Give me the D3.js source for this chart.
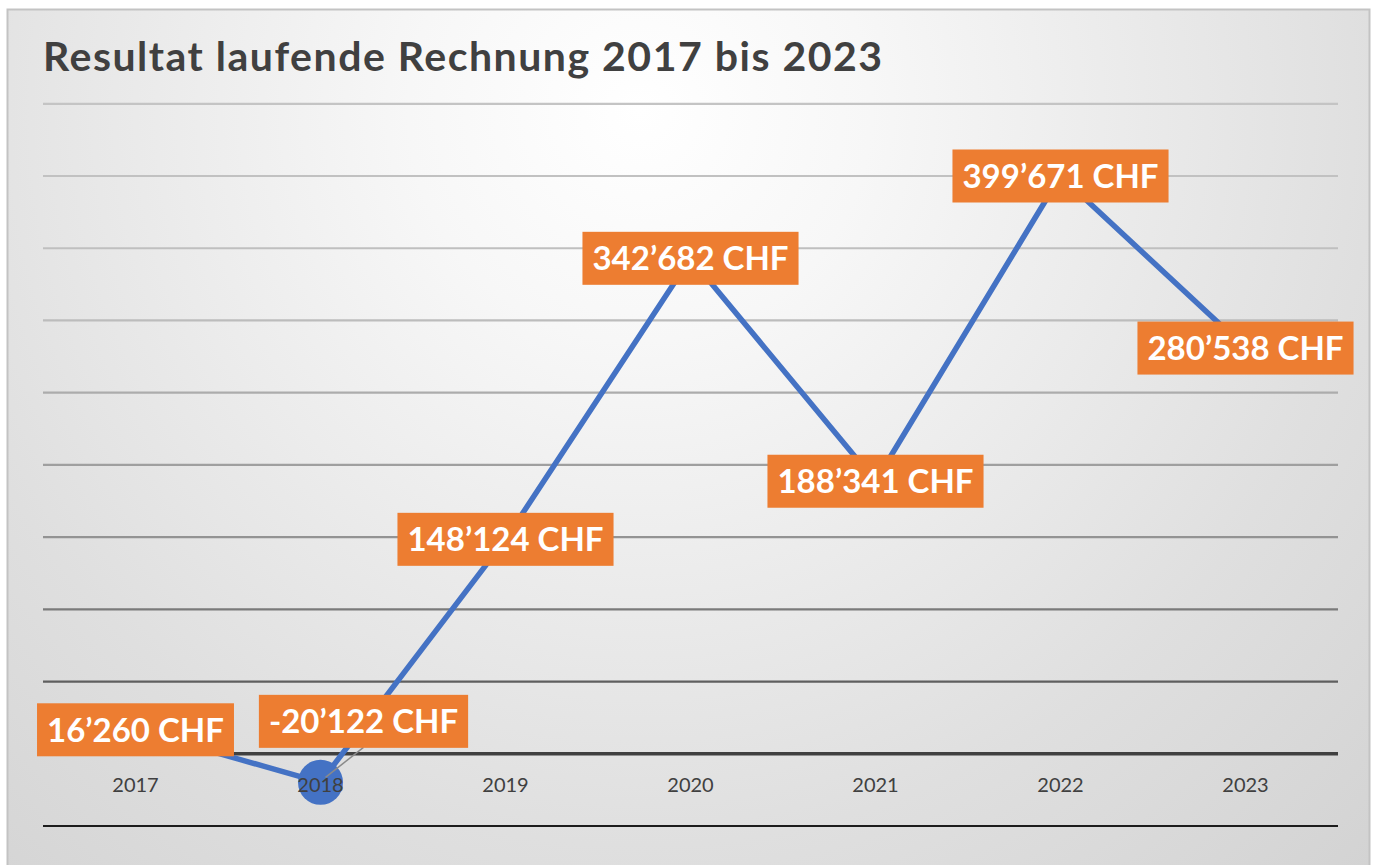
<!DOCTYPE html>
<html>
<head>
<meta charset="utf-8">
<script src="https://cdn.jsdelivr.net/npm/d3@7"></script>
<style>
  html, body { margin: 0; padding: 0; background: #ffffff; }
  svg { display: block; }
</style>
</head>
<body>
<svg id="chart" width="1373" height="865"></svg>
<script>
// ---- data ----
const years = ["2017", "2018", "2019", "2020", "2021", "2022", "2023"];
const results = [16260, -20122, 148124, 342682, 188341, 399671, 280538];
const yTicks = [-50000, 0, 50000, 100000, 150000, 200000, 250000, 300000, 350000, 400000, 450000];
const title = "Resultat laufende Rechnung 2017 bis 2023";
const currency = "CHF";

// ---- layout ----
const W = 1373, H = 865;
const plot = { left: 43, right: 1338, top: 103.3, bottom: 825.5 };
const svg = d3.select("#chart");
const defs = svg.append("defs");

const bg = defs.append("radialGradient").attr("id", "bg")
  .attr("gradientUnits", "userSpaceOnUse")
  .attr("cx", 640).attr("cy", 110).attr("r", 1050);
bg.append("stop").attr("offset", "0").attr("stop-color", "#ffffff");
bg.append("stop").attr("offset", "0.22").attr("stop-color", "#f7f7f7");
bg.append("stop").attr("offset", "0.7").attr("stop-color", "#dfdfdf");
bg.append("stop").attr("offset", "1").attr("stop-color", "#d3d3d3");

// background + border
svg.append("rect").attr("x", 7.5).attr("y", 9.5).attr("width", 1362).attr("height", 860)
  .attr("fill", "url(#bg)").attr("stroke", "#c3c3c3").attr("stroke-width", 2);

// ---- scales ----
const x = d3.scaleBand().domain(years).range([plot.left, plot.right]).padding(0);
const cx = d => x(d) + x.bandwidth() / 2;
const y = d3.scaleLinear().domain([d3.min(yTicks), d3.max(yTicks)]).range([plot.bottom, plot.top]);

// gridline shade darkens toward the bottom
const gridShade = d3.scaleLinear()
  .domain([100, 330, 400, 540, 610, 685])
  .range(["#c4c4c4", "#bcbcbc", "#aaaaaa", "#929292", "#7a7a7a", "#5e5e5e"])
  .clamp(true);

// ---- gridlines ----
const grid = svg.append("g").attr("transform", `translate(${plot.left},0)`)
  .call(d3.axisLeft(y).tickValues(yTicks).tickSize(-(plot.right - plot.left)).tickFormat(""));
grid.select(".domain").remove();
grid.selectAll(".tick line")
  .attr("stroke", d => d === 0 ? "#404040" : (d === d3.min(yTicks) ? "#1c1c1c" : gridShade(y(d))))
  .attr("stroke-width", d => d === 0 ? 3.4 : 2.2);

// ---- title ----
svg.append("text")
  .attr("x", 43).attr("y", 71)
  .attr("font-family", "Lato, 'Open Sans', sans-serif")
  .attr("font-weight", 700)
  .attr("font-size", 41)
  .attr("textLength", 839)
  .attr("lengthAdjust", "spacing")
  .attr("fill", "#404040")
  .text(title);

// ---- line ----
const pts = years.map((yr, i) => ({ year: yr, value: results[i] }));
svg.append("path").datum(pts)
  .attr("fill", "none")
  .attr("stroke", "#4472C4")
  .attr("stroke-width", 5.5)
  .attr("stroke-linejoin", "round")
  .attr("d", d3.line().x(d => cx(d.year)).y(d => y(d.value)));

// highlighted marker on 2018
const hl = pts[1];
svg.append("circle")
  .attr("cx", cx(hl.year)).attr("cy", y(hl.value)).attr("r", 22.5)
  .attr("fill", "#4472C4");

// ---- category labels ----
svg.append("g").selectAll("text").data(years).join("text")
  .attr("x", d => cx(d)).attr("y", y(0) + 39)
  .attr("text-anchor", "middle")
  .attr("font-family", "Lato, 'Open Sans', sans-serif")
  .attr("font-size", 20)
  .attr("fill", "#404040")
  .text(d => d);

// ---- data labels ----
const fmt = v => (v < 0 ? "-" : "") + d3.format(",")(Math.abs(v)).replace(/,/g, "\u2019") + " " + currency;
const labelOffset = { "2018": [43, -61] };

// leader line for moved label
const lo = labelOffset["2018"];
svg.append("line")
  .attr("x1", cx(hl.year) + 5).attr("y1", y(hl.value) - 5)
  .attr("x2", cx(hl.year) + lo[0]).attr("y2", y(hl.value) + lo[1] + 26)
  .attr("stroke", "#8a8a8a").attr("stroke-width", 1.5);

const lab = svg.append("g").selectAll("g").data(pts).join("g")
  .attr("transform", d => {
    const o = labelOffset[d.year] || [0, 0];
    return `translate(${cx(d.year) + o[0]},${y(d.value) + o[1]})`;
  });
lab.append("rect").attr("fill", "#ED7D31");
lab.append("text")
  .attr("text-anchor", "middle")
  .attr("dy", "0.36em")
  .attr("font-family", "Lato, 'Open Sans', sans-serif")
  .attr("font-weight", 700)
  .attr("font-size", 33)
  .attr("fill", "#ffffff")
  .text(d => fmt(d.value));
lab.each(function() {
  const g = d3.select(this);
  const w = g.select("text").node().getComputedTextLength();
  g.select("rect").attr("x", -w / 2 - 10).attr("y", -26.5).attr("width", w + 20).attr("height", 53);
});
</script>
</body>
</html>
